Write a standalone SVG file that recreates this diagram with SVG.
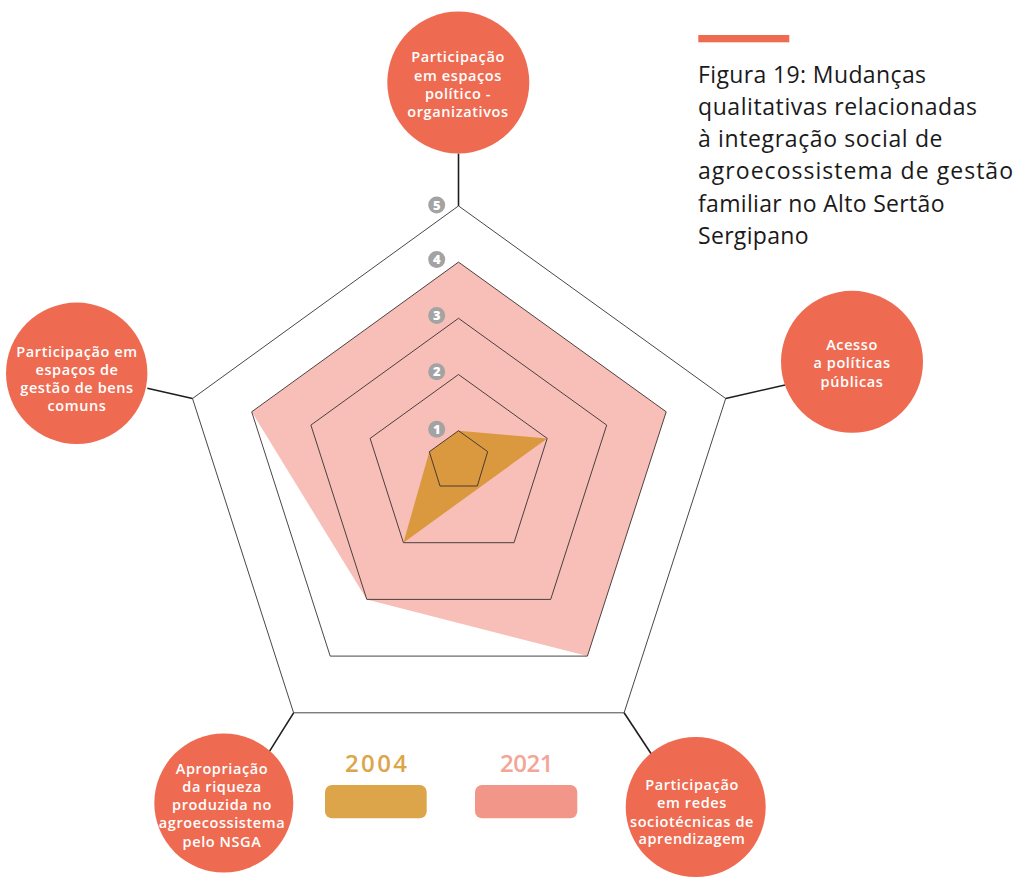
<svg xmlns="http://www.w3.org/2000/svg" width="1021" height="877" viewBox="0 0 1021 877">
<style>
.node circle{fill:#EE6B52}
.node text{font-family:"Open Sans","Liberation Sans",sans-serif;font-weight:600;font-size:14.5px;letter-spacing:0.6px;fill:#fff;text-anchor:middle}
.grid{fill:none;stroke:#3a3030;stroke-width:0.9}
.conn line{stroke:#1e1e1e;stroke-width:1.6}
.badge circle{fill:#A3A3A3}
.badge text{font-family:"Open Sans","Liberation Sans",sans-serif;font-weight:800;font-size:13px;fill:#fff;text-anchor:middle}
.title{font-family:"Open Sans","Liberation Sans",sans-serif;font-size:23px;fill:#1a1a1a}
.year{font-family:"Open Sans","Liberation Sans",sans-serif;font-weight:600;font-size:24px}
</style>
<rect width="1021" height="877" fill="#fff"/>

<g id="data">
<polygon id="s2021" points="458.5,262.1 666.2,411.8 587.4,656.1 366.8,599.4 251.7,411.8" fill="#F7BFB8"/>
<polygon id="s2004" points="458.5,430.7 547.2,438.4 403.4,542.7 429.3,451.7" fill="#DA983F"/>
</g>

<g id="grid">
<polygon class="grid" points="458.5,430.7 487.7,451.7 477.3,486 440,486 429.3,451.7"/>
<polygon class="grid" points="458.5,374.5 547.2,438.4 514,542.7 403.4,542.7 370.1,438.4"/>
<polygon class="grid" points="458.5,318.3 606.7,425.1 550.7,599.4 366.8,599.4 310.9,425.1"/>
<polygon class="grid" points="458.5,262.1 666.2,411.8 587.4,656.1 330.2,656.1 251.7,411.8"/>
<polygon class="grid" points="458.5,205.9 725.7,398.5 624.1,712.8 293.6,712.8 192.5,398.5"/>
</g>

<g id="connectors" class="conn">
<line x1="458.5" y1="205.9" x2="458.5" y2="153.5"/>
<line x1="725.7" y1="398.5" x2="785" y2="385"/>
<line x1="624.1" y1="712.8" x2="653.3" y2="757"/>
<line x1="293.6" y1="712.8" x2="269.3" y2="751.7"/>
<line x1="192.5" y1="398.5" x2="147.3" y2="388.3"/>
</g>

<g id="scale">
<g class="badge"><circle cx="436.7" cy="205" r="8.5"/><text x="436.7" y="209.6">5</text></g>
<g class="badge"><circle cx="436.7" cy="259.5" r="8.5"/><text x="436.7" y="264.1">4</text></g>
<g class="badge"><circle cx="436.7" cy="315.5" r="8.5"/><text x="436.7" y="320.1">3</text></g>
<g class="badge"><circle cx="436.7" cy="371.8" r="8.5"/><text x="436.7" y="376.4">2</text></g>
<g class="badge"><circle cx="436.7" cy="429.3" r="8.5"/><text x="436.7" y="433.9">1</text></g>
</g>

<g id="node-top" class="node">
<circle cx="458.3" cy="82.5" r="71"/>
<text x="458" y="62.3">Participação</text>
<text x="458" y="80.7">em espaços</text>
<text x="458" y="99">político -</text>
<text x="458" y="116.5">organizativos</text>
</g>

<g id="node-right" class="node">
<circle cx="852" cy="361.8" r="71"/>
<text x="852" y="350">Acesso</text>
<text x="852" y="368.3">a políticas</text>
<text x="852" y="386.7">públicas</text>
</g>

<g id="node-bottom-right" class="node">
<circle cx="695.7" cy="807" r="70"/>
<text x="692" y="790">Participação</text>
<text x="692" y="808.3">em redes</text>
<text x="692" y="826.8">sociotécnicas de</text>
<text x="692" y="844.3">aprendizagem</text>
</g>

<g id="node-bottom-left" class="node">
<circle cx="223.8" cy="803" r="69.5"/>
<text x="222" y="774">Apropriação</text>
<text x="222" y="791.7">da riqueza</text>
<text x="222" y="810">produzida no</text>
<text x="222" y="828.3">agroecossistema</text>
<text x="222" y="847">pelo NSGA</text>
</g>

<g id="node-left" class="node">
<circle cx="76.7" cy="373.3" r="70.7"/>
<text x="77" y="356.5">Participação em</text>
<text x="77" y="374.5">espaços de</text>
<text x="77" y="392.5">gestão de bens</text>
<text x="77" y="410.5">comuns</text>
</g>

<g id="title">
<rect x="698.3" y="35" width="91" height="7.3" fill="#EE6B52"/>
<text class="title" x="698" y="82.5" textLength="228" lengthAdjust="spacing">Figura 19: Mudanças</text>
<text class="title" x="698" y="114.8" textLength="279" lengthAdjust="spacing">qualitativas relacionadas</text>
<text class="title" x="698" y="147.1" textLength="244.5" lengthAdjust="spacing">à integração social de</text>
<text class="title" x="698" y="179.4" textLength="315" lengthAdjust="spacing">agroecossistema de gestão</text>
<text class="title" x="698" y="211.7" textLength="246.5" lengthAdjust="spacing">familiar no Alto Sertão</text>
<text class="title" x="698" y="244" textLength="110.5" lengthAdjust="spacing">Sergipano</text>
</g>

<g id="legend">
<text class="year" x="345" y="772.3" fill="#DDA54A" textLength="62" lengthAdjust="spacing">2004</text>
<rect x="325" y="785" width="101.7" height="33.3" rx="7" fill="#DDA54A"/>
<text class="year" x="500" y="772.3" fill="#F4A596" textLength="53.5" lengthAdjust="spacing">2021</text>
<rect x="475" y="785" width="102.3" height="33.3" rx="7" fill="#F3968A"/>
</g>
</svg>
